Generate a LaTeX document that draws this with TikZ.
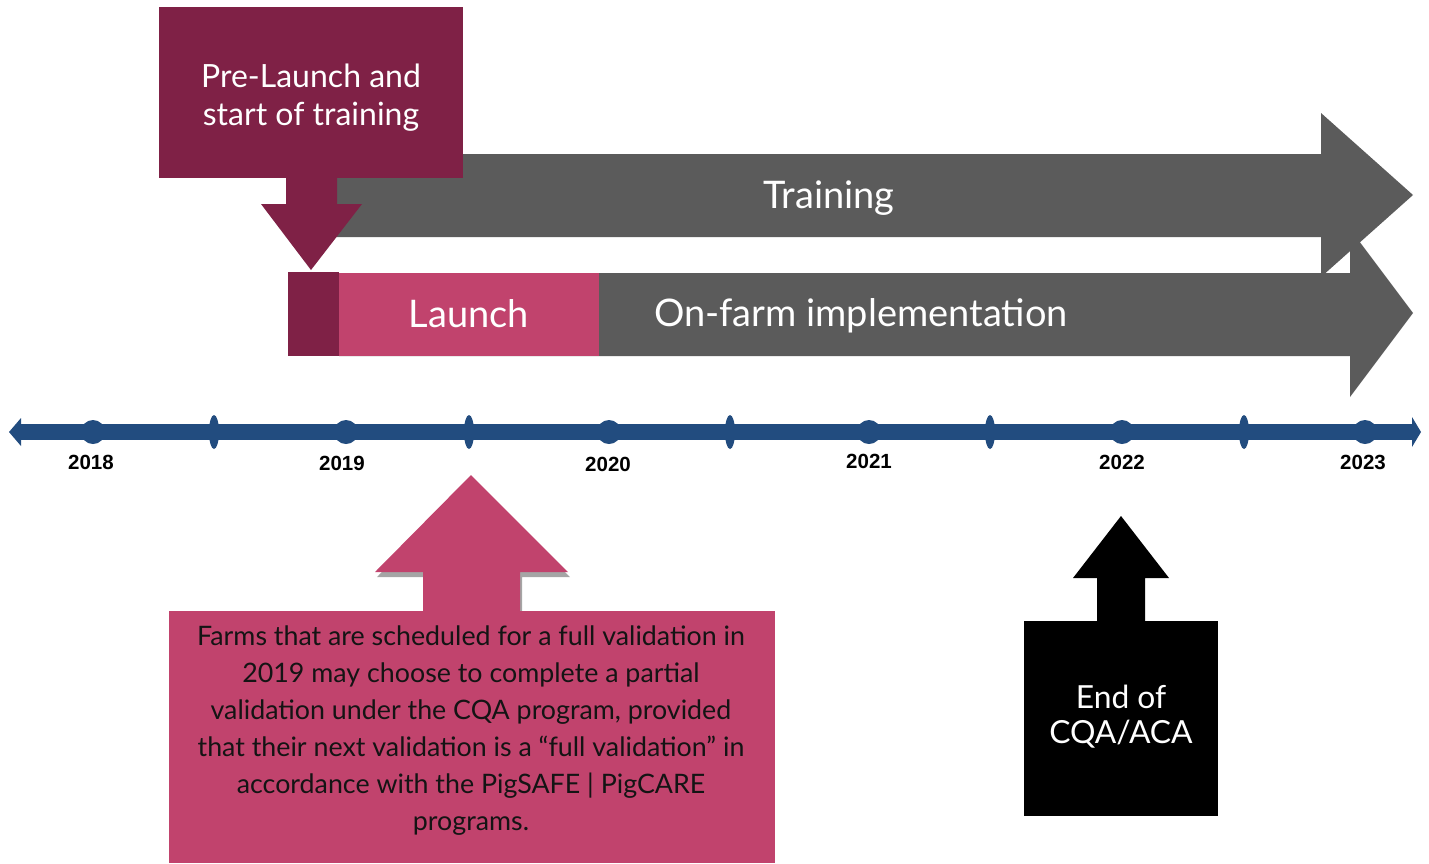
\documentclass[tikz,border=0pt]{standalone}
\usepackage{fontspec}
\usetikzlibrary{shapes.geometric}
\setmainfont{Lato}
\newfontfamily\yearfont{Liberation Sans}
\definecolor{maroon}{HTML}{7F2146}
\definecolor{rose}{HTML}{C1436D}
\definecolor{darkgray}{HTML}{5B5B5B}
\definecolor{navy}{HTML}{224C7F}
\definecolor{shadowgray}{HTML}{A5A5A5}
\begin{document}
\begin{tikzpicture}[x=1pt,y=-1pt,
  box/.style={anchor=north west, inner sep=0, outer sep=0},
  lbl/.style={text=white, inner sep=0, align=center},
  year/.style={font=\yearfont\bfseries\fontsize{20.5}{24}\selectfont, inner sep=0},
  yeardot/.style={fill=navy, circle, inner sep=0, minimum size=24pt},
  halfdot/.style={fill=navy, ellipse, inner sep=0, minimum width=10pt, minimum height=34pt}]
\useasboundingbox (0,0) rectangle (1429,863);
% Training arrow
\fill[darkgray] (330,154) -- (1321,154) -- (1321,113) -- (1413,195) -- (1321,277) -- (1321,237) -- (330,237) -- cycle;
% On-farm arrow
\fill[darkgray] (339,273) -- (1350,273) -- (1350,229) -- (1413,313) -- (1350,397) -- (1350,356) -- (339,356) -- cycle;
\node[lbl, font=\fontsize{38}{44}\selectfont] (training) at (829,198) {Training};
\node[lbl, font=\fontsize{38}{44}\selectfont] (onfarm) at (861,316) {On-farm implementation};
% Pre-launch box and down arrow
\node[box, fill=maroon, minimum width=304pt, minimum height=171pt] (pre) at (159,7) {};
\node[lbl, font=\fontsize{32}{38}\selectfont] (pretext) at (311,98) {Pre-Launch and\\start of training};
\fill[maroon] (286,178) -- (337,178) -- (337,204) -- (362,204) -- (311,270) -- (261,204) -- (286,204) -- cycle;
\node[box, fill=maroon, minimum width=51pt, minimum height=84pt] (mark) at (288,272) {};
\node[box, fill=rose, minimum width=260pt, minimum height=83pt] (launch) at (339,273) {};
\node[lbl, font=\fontsize{38}{44}\selectfont] (launchtext) at (469,314) {Launch};
% Timeline
\coordinate (tlL) at (20,432);
\coordinate (tlR) at (1413,432);
\draw[navy, line width=16pt] (tlL) -- (tlR);
\fill[navy] (9,432) -- (21,418) -- (21,446) -- cycle;
\fill[navy] (1421,432) -- (1412,417) -- (1412,447) -- cycle;
\foreach \x/\n in {93/a,346/b,609/c,869/d,1122/e,1365/f}
  \node[yeardot] (dot\n) at (\x,432) {};
\foreach \x/\n in {214/a,469/b,730/c,990/d,1244/e}
  \node[halfdot] (half\n) at (\x,432) {};
\node[year] (y2018) at (91,462) {2018};
\node[year] (y2019) at (342,463) {2019};
\node[year] (y2020) at (608,464) {2020};
\node[year] (y2021) at (869,461) {2021};
\node[year] (y2022) at (1122,462) {2022};
\node[year] (y2023) at (1363,462) {2023};
% Pink up arrow with shadow
\fill[shadowgray] (425,616) -- (425,577) -- (377,577) -- (473,480) -- (570,577) -- (522,577) -- (522,616) -- cycle;
\fill[rose] (423,611) -- (423,572) -- (375,572) -- (471,475) -- (568,572) -- (520,572) -- (520,611) -- cycle;
\node[box, fill=rose, minimum width=606pt, minimum height=252pt] (note) at (169,611) {};
\node[inner sep=0, align=center, text=black!92, font=\fontsize{26.8}{37}\selectfont] (notetext) at (471,731)
  {Farms that are scheduled for a full validation in\\2019 may choose to complete a partial\\validation under the CQA program, provided\\that their next validation is a “full validation” in\\accordance with the PigSAFE | PigCARE\\programs.};
% Black up arrow and box
\fill[black] (1097,621) -- (1097,578) -- (1073,578) -- (1121,516) -- (1169,578) -- (1145,578) -- (1145,621) -- cycle;
\node[box, fill=black, minimum width=194pt, minimum height=195pt] (endbox) at (1024,621) {};
\node[lbl, font=\fontsize{31.8}{35}\selectfont] (endtext) at (1121,717) {End of\\CQA/ACA};
\end{tikzpicture}
\end{document}
